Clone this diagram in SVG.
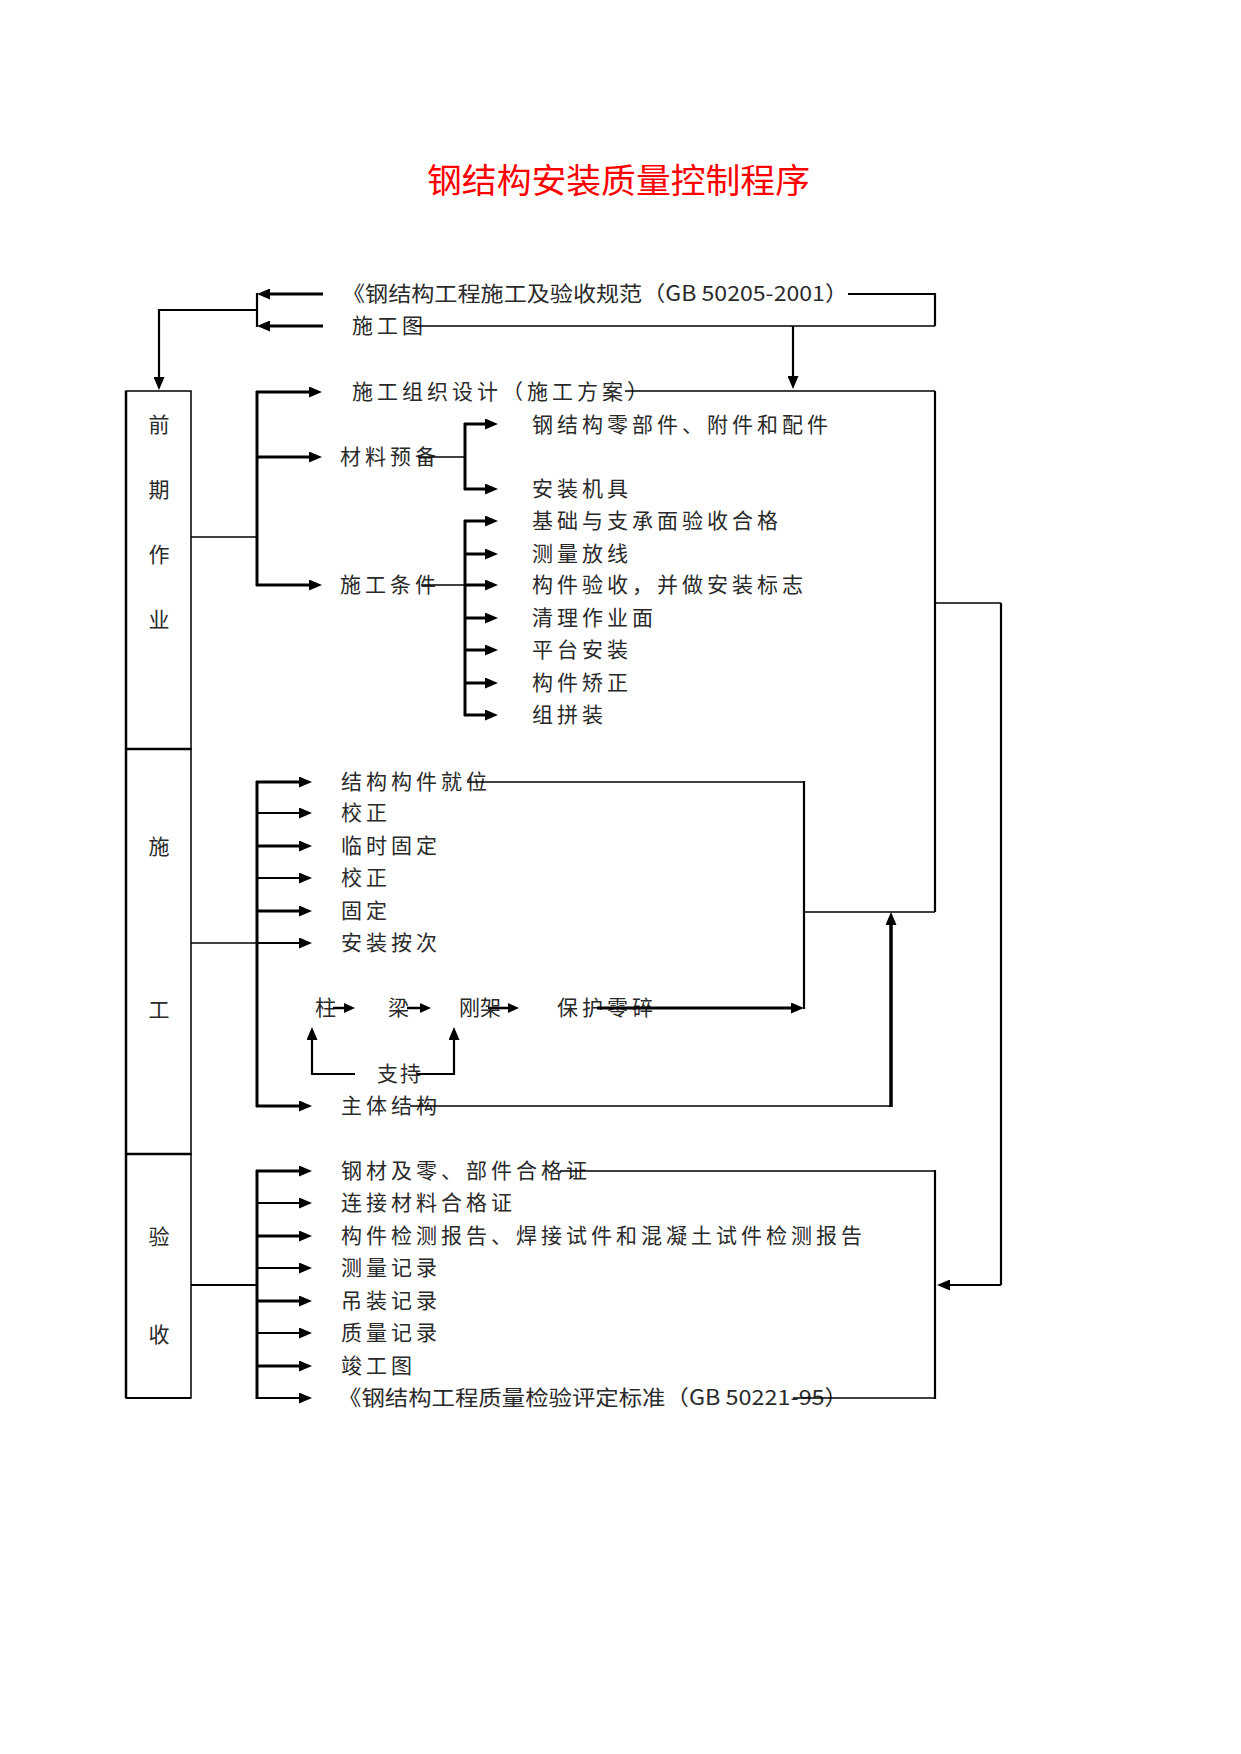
<svg xmlns="http://www.w3.org/2000/svg" width="1241" height="1754" viewBox="0 0 1241 1754">
<style>
.t{font-family:"Noto Sans CJK SC","Noto Sans",sans-serif;font-size:21px;fill:#2a2a2a;letter-spacing:4px}
.c{font-family:"Noto Sans CJK SC","Noto Sans",sans-serif;font-size:21px;fill:#2a2a2a;text-anchor:middle}
.title{font-family:"Noto Sans CJK SC","Noto Sans",sans-serif;font-size:34px;fill:#ff0000}
.box{fill:none;stroke:#000;stroke-width:1.5}
.thin{fill:none;stroke:#000;stroke-width:1.5}
.mid{fill:none;stroke:#000;stroke-width:2.2}
.thk{fill:none;stroke:#000;stroke-width:3}
.arr{fill:none;stroke:#000;stroke-width:3;marker-end:url(#ah)}
.arrm{fill:none;stroke:#000;stroke-width:2.2;marker-end:url(#ah)}
.arrs{fill:none;stroke:#000;stroke-width:2.5;marker-end:url(#as)}
</style>
<defs>
<marker id="ah" markerUnits="userSpaceOnUse" markerWidth="13" markerHeight="11" viewBox="0 0 13 11" refX="0" refY="5.5" orient="auto"><path d="M0,0 L13,5.5 L0,11 Z" fill="#000"/></marker>
<marker id="as" markerUnits="userSpaceOnUse" markerWidth="11" markerHeight="10" viewBox="0 0 11 10" refX="0" refY="5" orient="auto"><path d="M0,0 L11,5 L0,10 Z" fill="#000"/></marker>
</defs>
<rect width="1241" height="1754" fill="#fff"/>

<g id="title"><text class="title" x="427" y="193" textLength="383" lengthAdjust="spacingAndGlyphs">钢结构安装质量控制程序</text></g>

<g id="stage-prep">
<rect class="box" x="126" y="391" width="65" height="358"/>
<line x1="126" y1="391" x2="126" y2="749" stroke="#000" stroke-width="2.5"/>
<text class="c" x="159" y="432">前</text>
<text class="c" x="159" y="497">期</text>
<text class="c" x="159" y="562">作</text>
<text class="c" x="159" y="627">业</text>
</g>
<g id="stage-build">
<rect class="box" x="126" y="749" width="65" height="405"/>
<line x1="126" y1="749" x2="126" y2="1154" stroke="#000" stroke-width="2.5"/>
<line x1="126" y1="749" x2="191" y2="749" stroke="#000" stroke-width="2.5"/>
<text class="c" x="159" y="854">施</text>
<text class="c" x="159" y="1017">工</text>
</g>
<g id="stage-accept">
<rect class="box" x="126" y="1154" width="65" height="244"/>
<line x1="126" y1="1154" x2="126" y2="1398" stroke="#000" stroke-width="2.5"/>
<line x1="126" y1="1154" x2="191" y2="1154" stroke="#000" stroke-width="2.5"/>
<line x1="126" y1="1398" x2="191" y2="1398" stroke="#000" stroke-width="2.2"/>
<text class="c" x="159" y="1244">验</text>
<text class="c" x="159" y="1342">收</text>
</g>

<g id="n-spec"><text class="t" x="342" y="301" textLength="506" lengthAdjust="spacingAndGlyphs" style="letter-spacing:0">《钢结构工程施工及验收规范（GB 50205-2001）</text></g>
<g id="n-drawing"><text class="t" x="352" y="333">施工图</text></g>
<g id="n-design"><text class="t" x="352" y="399">施工组织设计（施工方案）</text></g>
<g id="n-material"><text class="t" x="340" y="464">材料预备</text></g>
<g id="n-condition"><text class="t" x="340" y="592">施工条件</text></g>
<g id="n-parts"><text class="t" x="532" y="432">钢结构零部件、附件和配件</text></g>
<g id="n-tools"><text class="t" x="532" y="496">安装机具</text></g>
<g id="n-c1"><text class="t" x="532" y="528">基础与支承面验收合格</text></g>
<g id="n-c2"><text class="t" x="532" y="561">测量放线</text></g>
<g id="n-c3"><text class="t" x="532" y="592">构件验收，并做安装标志</text></g>
<g id="n-c4"><text class="t" x="532" y="625">清理作业面</text></g>
<g id="n-c5"><text class="t" x="532" y="657">平台安装</text></g>
<g id="n-c6"><text class="t" x="532" y="690">构件矫正</text></g>
<g id="n-c7"><text class="t" x="532" y="722">组拼装</text></g>

<g id="n-b1"><text class="t" x="341" y="789">结构构件就位</text></g>
<g id="n-b2"><text class="t" x="341" y="820">校正</text></g>
<g id="n-b3"><text class="t" x="341" y="853">临时固定</text></g>
<g id="n-b4"><text class="t" x="341" y="885">校正</text></g>
<g id="n-b5"><text class="t" x="341" y="918">固定</text></g>
<g id="n-b6"><text class="t" x="341" y="950">安装按次</text></g>
<g id="n-column"><text class="t" x="315" y="1015">柱</text></g>
<g id="n-beam"><text class="t" x="388" y="1015">梁</text></g>
<g id="n-frame"><text class="t" x="459" y="1015" style="letter-spacing:0">刚架</text></g>
<g id="n-protect"><text class="t" x="557" y="1015">保护零碎</text></g>
<g id="n-support"><text class="t" x="377" y="1081" style="letter-spacing:2px">支持</text></g>
<g id="n-main"><text class="t" x="341" y="1113">主体结构</text></g>

<g id="n-d1"><text class="t" x="341" y="1178">钢材及零、部件合格证</text></g>
<g id="n-d2"><text class="t" x="341" y="1210">连接材料合格证</text></g>
<g id="n-d3"><text class="t" x="341" y="1243">构件检测报告、焊接试件和混凝土试件检测报告</text></g>
<g id="n-d4"><text class="t" x="341" y="1275">测量记录</text></g>
<g id="n-d5"><text class="t" x="341" y="1308">吊装记录</text></g>
<g id="n-d6"><text class="t" x="341" y="1340">质量记录</text></g>
<g id="n-d7"><text class="t" x="341" y="1373">竣工图</text></g>
<g id="n-d8"><text class="t" x="338" y="1405" textLength="510" lengthAdjust="spacingAndGlyphs" style="letter-spacing:0">《钢结构工程质量检验评定标准（GB 50221-95）</text></g>

<g id="connectors">
<line class="arr" x1="323" y1="294" x2="270" y2="294"/>
<line class="arr" x1="323" y1="326" x2="270" y2="326"/>
<line class="mid" x1="257" y1="293" x2="257" y2="327"/>
<polyline class="mid" points="257,310 159,310 159,377" style="marker-end:url(#ah)"/>
<polyline class="mid" points="848,294 935,294 935,326"/>
<line class="thin" x1="935" y1="326" x2="415" y2="326"/>
<line class="arrm" x1="793" y1="326" x2="793" y2="376"/>
<line class="thin" x1="625" y1="391" x2="935" y2="391"/>
<line class="mid" x1="935" y1="391" x2="935" y2="912"/>
<line class="thin" x1="804" y1="912" x2="935" y2="912"/>
<line class="thin" x1="935" y1="603" x2="1001" y2="603"/>
<line class="mid" x1="1001" y1="603" x2="1001" y2="1285"/>
<line class="arrm" x1="1001" y1="1285" x2="950" y2="1285"/>
<line class="thin" x1="191" y1="537" x2="257" y2="537"/>
<line class="thk" x1="257" y1="391" x2="257" y2="586"/>
<line class="arr" x1="256" y1="392" x2="309" y2="392"/>
<line class="arr" x1="257" y1="457" x2="309" y2="457"/>
<line class="arr" x1="256" y1="585" x2="309" y2="585"/>
<line class="thin" x1="418" y1="457" x2="465" y2="457"/>
<line class="thk" x1="465" y1="423" x2="465" y2="490"/>
<line class="arr" x1="464" y1="424" x2="485" y2="424"/>
<line class="arr" x1="464" y1="489" x2="485" y2="489"/>
<line class="thin" x1="421" y1="585" x2="465" y2="585"/>
<line class="thk" x1="465" y1="520" x2="465" y2="716"/>
<line class="arr" x1="464" y1="521" x2="485" y2="521"/>
<line class="arr" x1="465" y1="554" x2="485" y2="554"/>
<line class="arr" x1="465" y1="585" x2="485" y2="585"/>
<line class="arr" x1="465" y1="618" x2="485" y2="618"/>
<line class="arr" x1="465" y1="650" x2="485" y2="650"/>
<line class="arr" x1="465" y1="683" x2="485" y2="683"/>
<line class="arr" x1="464" y1="715" x2="485" y2="715"/>
<line class="thin" x1="191" y1="943" x2="257" y2="943"/>
<line class="thk" x1="257" y1="781" x2="257" y2="1107"/>
<line class="arr" x1="256" y1="782" x2="299" y2="782"/>
<line class="arrm" x1="257" y1="813" x2="299" y2="813"/>
<line class="arr" x1="257" y1="846" x2="299" y2="846"/>
<line class="arrm" x1="257" y1="878" x2="299" y2="878"/>
<line class="arr" x1="257" y1="911" x2="299" y2="911"/>
<line class="arrm" x1="257" y1="943" x2="299" y2="943"/>
<line class="arr" x1="256" y1="1106" x2="299" y2="1106"/>
<line class="thin" x1="467" y1="782" x2="804" y2="782"/>
<line class="mid" x1="804" y1="781" x2="804" y2="1009"/>
<line class="arr" x1="597" y1="1008" x2="791" y2="1008"/>
<line class="arrs" x1="333" y1="1008" x2="344" y2="1008"/>
<line class="arrs" x1="407" y1="1008" x2="420" y2="1008"/>
<line class="arrs" x1="488" y1="1008" x2="508" y2="1008"/>
<polyline class="mid" points="355,1074 312,1074 312,1040" style="marker-end:url(#ah)"/>
<polyline class="mid" points="417,1074 454,1074 454,1040" style="marker-end:url(#ah)"/>
<line class="thin" x1="410" y1="1106" x2="891" y2="1106"/>
<line class="thk" x1="891" y1="1107" x2="891" y2="925" style="marker-end:url(#ah);stroke-width:3.5"/>
<line class="mid" x1="191" y1="1285" x2="257" y2="1285"/>
<line class="thk" x1="257" y1="1170" x2="257" y2="1399"/>
<line class="arr" x1="256" y1="1171" x2="299" y2="1171"/>
<line class="arrm" x1="257" y1="1203" x2="299" y2="1203"/>
<line class="arr" x1="257" y1="1236" x2="299" y2="1236"/>
<line class="arrm" x1="257" y1="1268" x2="299" y2="1268"/>
<line class="arr" x1="257" y1="1301" x2="299" y2="1301"/>
<line class="arrm" x1="257" y1="1333" x2="299" y2="1333"/>
<line class="arr" x1="257" y1="1366" x2="299" y2="1366"/>
<line class="arrm" x1="256" y1="1398" x2="299" y2="1398"/>
<line class="thin" x1="560" y1="1171" x2="935" y2="1171"/>
<line class="mid" x1="935" y1="1170" x2="935" y2="1399"/>
<line class="thin" x1="793" y1="1398" x2="935" y2="1398"/>
</g>
</svg>
